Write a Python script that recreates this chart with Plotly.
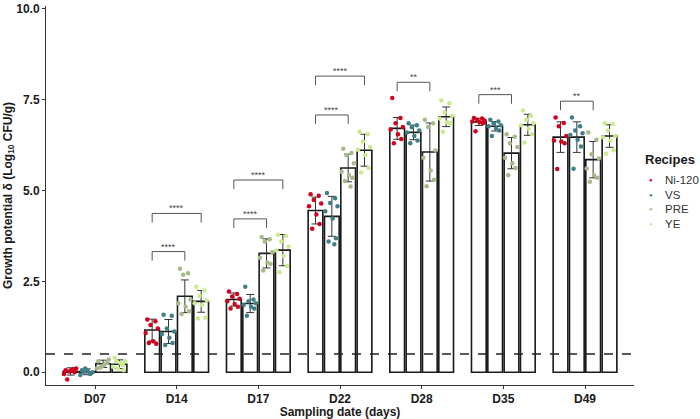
import plotly.graph_objects as go

days = ["D07", "D14", "D17", "D22", "D28", "D35", "D49"]
recipes = ["Ni-120", "VS", "PRE", "YE"]
colors = {"Ni-120": "#D0021B", "VS": "#3F7F86", "PRE": "#A6BA8A", "YE": "#C8EC8C"}

# bar heights (mean growth potential)
mean_ni = [0.02, 1.16, 2.00, 4.45, 6.71, 6.89, 6.47]
mean_vs = [0.01, 1.12, 1.89, 4.29, 6.60, 6.77, 6.47]
mean_pre = [0.23, 2.09, 3.27, 5.62, 6.06, 6.03, 5.85]
mean_ye = [0.22, 1.95, 3.36, 6.11, 7.03, 6.81, 6.50]

# standard deviations
sd_ni = [0.10, 0.30, 0.18, 0.37, 0.30, 0.10, 0.42]
sd_vs = [0.08, 0.33, 0.25, 0.55, 0.20, 0.13, 0.42]
sd_pre = [0.10, 0.45, 0.40, 0.38, 0.80, 0.43, 0.50]
sd_ye = [0.12, 0.30, 0.43, 0.44, 0.27, 0.29, 0.31]

# individual replicate values
pts_ni = [
    [0.05, 0.08, 0.02, 0.10, -0.05, 0.06, 0.00, -0.20],
    [1.45, 1.40, 1.30, 1.20, 1.08, 0.85, 0.78, 0.80],
    [2.22, 2.15, 2.08, 2.02, 1.95, 1.88, 1.80, 1.75],
    [4.90, 4.86, 4.74, 4.64, 4.57, 4.34, 4.08, 3.95],
    [7.55, 7.00, 6.85, 6.75, 6.68, 6.55, 6.42, 6.30],
    [7.00, 6.98, 6.95, 6.93, 6.90, 6.88, 6.85, 6.63],
    [7.01, 6.86, 6.77, 6.50, 6.38, 6.35, 6.30, 5.59],
]
pts_vs = [
    [0.05, -0.05, 0.10, 0.00, -0.08, 0.03, -0.02, 0.00],
    [1.58, 1.55, 1.20, 1.12, 1.05, 0.95, 0.80, 0.75],
    [2.35, 2.00, 1.95, 1.90, 1.85, 1.80, 1.75, 1.55],
    [4.93, 4.79, 4.66, 4.57, 4.43, 4.23, 3.69, 3.60, 3.52],
    [6.85, 6.80, 6.74, 6.65, 6.60, 6.50, 6.38, 6.30],
    [6.95, 6.90, 6.85, 6.80, 6.77, 6.72, 6.65, 6.50],
    [7.01, 6.77, 6.65, 6.58, 6.53, 6.40, 6.21, 5.60],
]
pts_pre = [
    [0.30, 0.25, 0.15, 0.35, 0.10, 0.20, 0.28, 0.12],
    [2.85, 2.72, 2.68, 2.00, 1.90, 1.80, 1.68, 1.60],
    [3.72, 3.66, 3.60, 3.30, 3.15, 3.02, 2.98, 2.80],
    [6.15, 6.03, 5.97, 5.75, 5.52, 5.43, 5.35, 5.26, 5.11],
    [6.95, 6.85, 6.75, 6.10, 5.90, 5.55, 5.30, 5.12],
    [6.55, 6.48, 6.30, 6.20, 5.90, 5.75, 5.62, 5.42],
    [6.60, 6.40, 6.00, 5.88, 5.61, 5.43, 5.35, 5.24],
]
pts_ye = [
    [0.40, 0.20, 0.10, 0.30, 0.15, 0.25, 0.05, 0.30],
    [2.35, 2.25, 2.10, 1.98, 1.90, 1.85, 1.50, 1.48],
    [3.78, 3.75, 3.60, 3.45, 3.35, 3.20, 2.92, 2.75],
    [6.62, 6.55, 6.35, 6.20, 6.12, 5.98, 5.62, 5.50],
    [7.48, 7.40, 7.15, 7.06, 6.98, 6.88, 6.85, 6.62],
    [7.20, 7.06, 6.95, 6.85, 6.80, 6.70, 6.55, 6.32],
    [6.85, 6.83, 6.65, 6.50, 6.47, 6.38, 6.11, 6.01],
]

# significance brackets: day index, target recipe (from Ni-120), bracket height, label
sig_day = [1, 1, 2, 2, 3, 3, 4, 5, 6]
sig_to = ["PRE", "YE", "PRE", "YE", "PRE", "YE", "PRE", "PRE", "PRE"]
sig_y = [3.32, 4.37, 4.22, 5.29, 7.08, 8.15, 7.98, 7.64, 7.46]
sig_label = ["****", "****", "****", "****", "****", "****", "**", "***", "**"]

means = {"Ni-120": mean_ni, "VS": mean_vs, "PRE": mean_pre, "YE": mean_ye}
sds = {"Ni-120": sd_ni, "VS": sd_vs, "PRE": sd_pre, "YE": sd_ye}
pts = {"Ni-120": pts_ni, "VS": pts_vs, "PRE": pts_pre, "YE": pts_ye}

dodge = {"Ni-120": -0.3, "VS": -0.1, "PRE": 0.1, "YE": 0.3}
bar_w = 0.18
jit = [-0.06, 0.04, -0.02, 0.07, -0.08, 0.01, 0.05, -0.04, 0.03]

fig = go.Figure()
xs = list(range(1, len(days) + 1))

for r in recipes:
    fig.add_trace(go.Bar(
        x=[d + dodge[r] for d in xs], y=means[r], width=bar_w,
        marker=dict(color="white", line=dict(color="#1a1a1a", width=1.6)),
        error_y=dict(type="data", array=sds[r], color="#333333", thickness=1, width=4),
        showlegend=False, hoverinfo="skip",
    ))

for r in recipes:
    px, py = [], []
    for i, d in enumerate(xs):
        for k, v in enumerate(pts[r][i]):
            px.append(d + dodge[r] + jit[k % len(jit)])
            py.append(v)
    fig.add_trace(go.Scatter(
        x=px, y=py, mode="markers", name=r, showlegend=False,
        marker=dict(color=colors[r], size=4.5),
    ))

# dashed threshold line
fig.add_shape(type="line", xref="paper", x0=0, x1=1, yref="y", y0=0.5, y1=0.5,
              line=dict(color="#222222", width=1.6, dash="dash"))

leg = 0.25
for d, t, yv, lab in zip(sig_day, sig_to, sig_y, sig_label):
    x0 = xs[d] + dodge["Ni-120"]
    x1 = xs[d] + dodge[t]
    fig.add_shape(type="path",
                  path=f"M {x0} {yv - leg} L {x0} {yv} L {x1} {yv} L {x1} {yv - leg}",
                  line=dict(color="#555555", width=1))
    fig.add_annotation(x=(x0 + x1) / 2, y=yv, text=lab, showarrow=False,
                       yanchor="bottom", yshift=-2,
                       font=dict(size=9, color="#444444", family="Liberation Sans"))

# legend drawn as text (compact spacing like the original)
L, PW, T, PH = 46, 588, 2, 384
def px2paper(x, y):
    return (x - L) / PW, (T + PH - y) / PH

lx, ly = px2paper(643, 158)
fig.add_annotation(xref="paper", yref="paper", x=lx, y=ly, text="<b>Recipes</b>",
                   showarrow=False, xanchor="left", yanchor="middle",
                   font=dict(size=13, color="#1a1a1a"))
for i, r in enumerate(recipes):
    mx, my = px2paper(651, 178 + 15 * i)
    fig.add_annotation(xref="paper", yref="paper", x=mx, y=my, text="●",
                       showarrow=False, xanchor="center", yanchor="middle",
                       font=dict(size=6, color=colors[r]))
    tx, ty = px2paper(663, 178 + 15 * i)
    fig.add_annotation(xref="paper", yref="paper", x=tx, y=ty, text=r,
                       showarrow=False, xanchor="left", yanchor="middle",
                       font=dict(size=11.5, color="#333333"))

fig.update_layout(
    width=700, height=419,
    margin=dict(l=46, r=66, t=2, b=33),
    plot_bgcolor="white", paper_bgcolor="white",
    barmode="overlay", showlegend=False,
    font=dict(family="Liberation Sans", color="#1a1a1a"),
    xaxis=dict(
        range=[0.4, 7.6], tickvals=xs, ticktext=[f"<b>{d}</b>" for d in days],
        showline=True, linecolor="#333333", linewidth=1,
        ticks="outside", ticklen=3, tickcolor="#333333",
        showgrid=False, zeroline=False,
        tickfont=dict(size=12, color="#1a1a1a"),
        title=dict(text="<b>Sampling date (days)</b>", font=dict(size=12), standoff=2),
    ),
    yaxis=dict(
        range=[-0.353, 10.08], tickvals=[0, 2.5, 5, 7.5, 10],
        ticktext=["<b>0.0</b>", "<b>2.5</b>", "<b>5.0</b>", "<b>7.5</b>", "<b>10.0</b>"],
        showline=True, linecolor="#333333", linewidth=1,
        ticks="outside", ticklen=3, tickcolor="#333333",
        showgrid=False, zeroline=False, ticklabeloverflow="allow",
        tickfont=dict(size=12, color="#1a1a1a"),
        title=dict(text="<b>Growth potential δ (Log<sub>10</sub> CFU/g)</b>", font=dict(size=12), standoff=1),
    ),
)

fig.write_html("out.html", config={"displayModeBar": False},
               post_script="document.body.style.margin='0';document.body.style.overflow='hidden';")
